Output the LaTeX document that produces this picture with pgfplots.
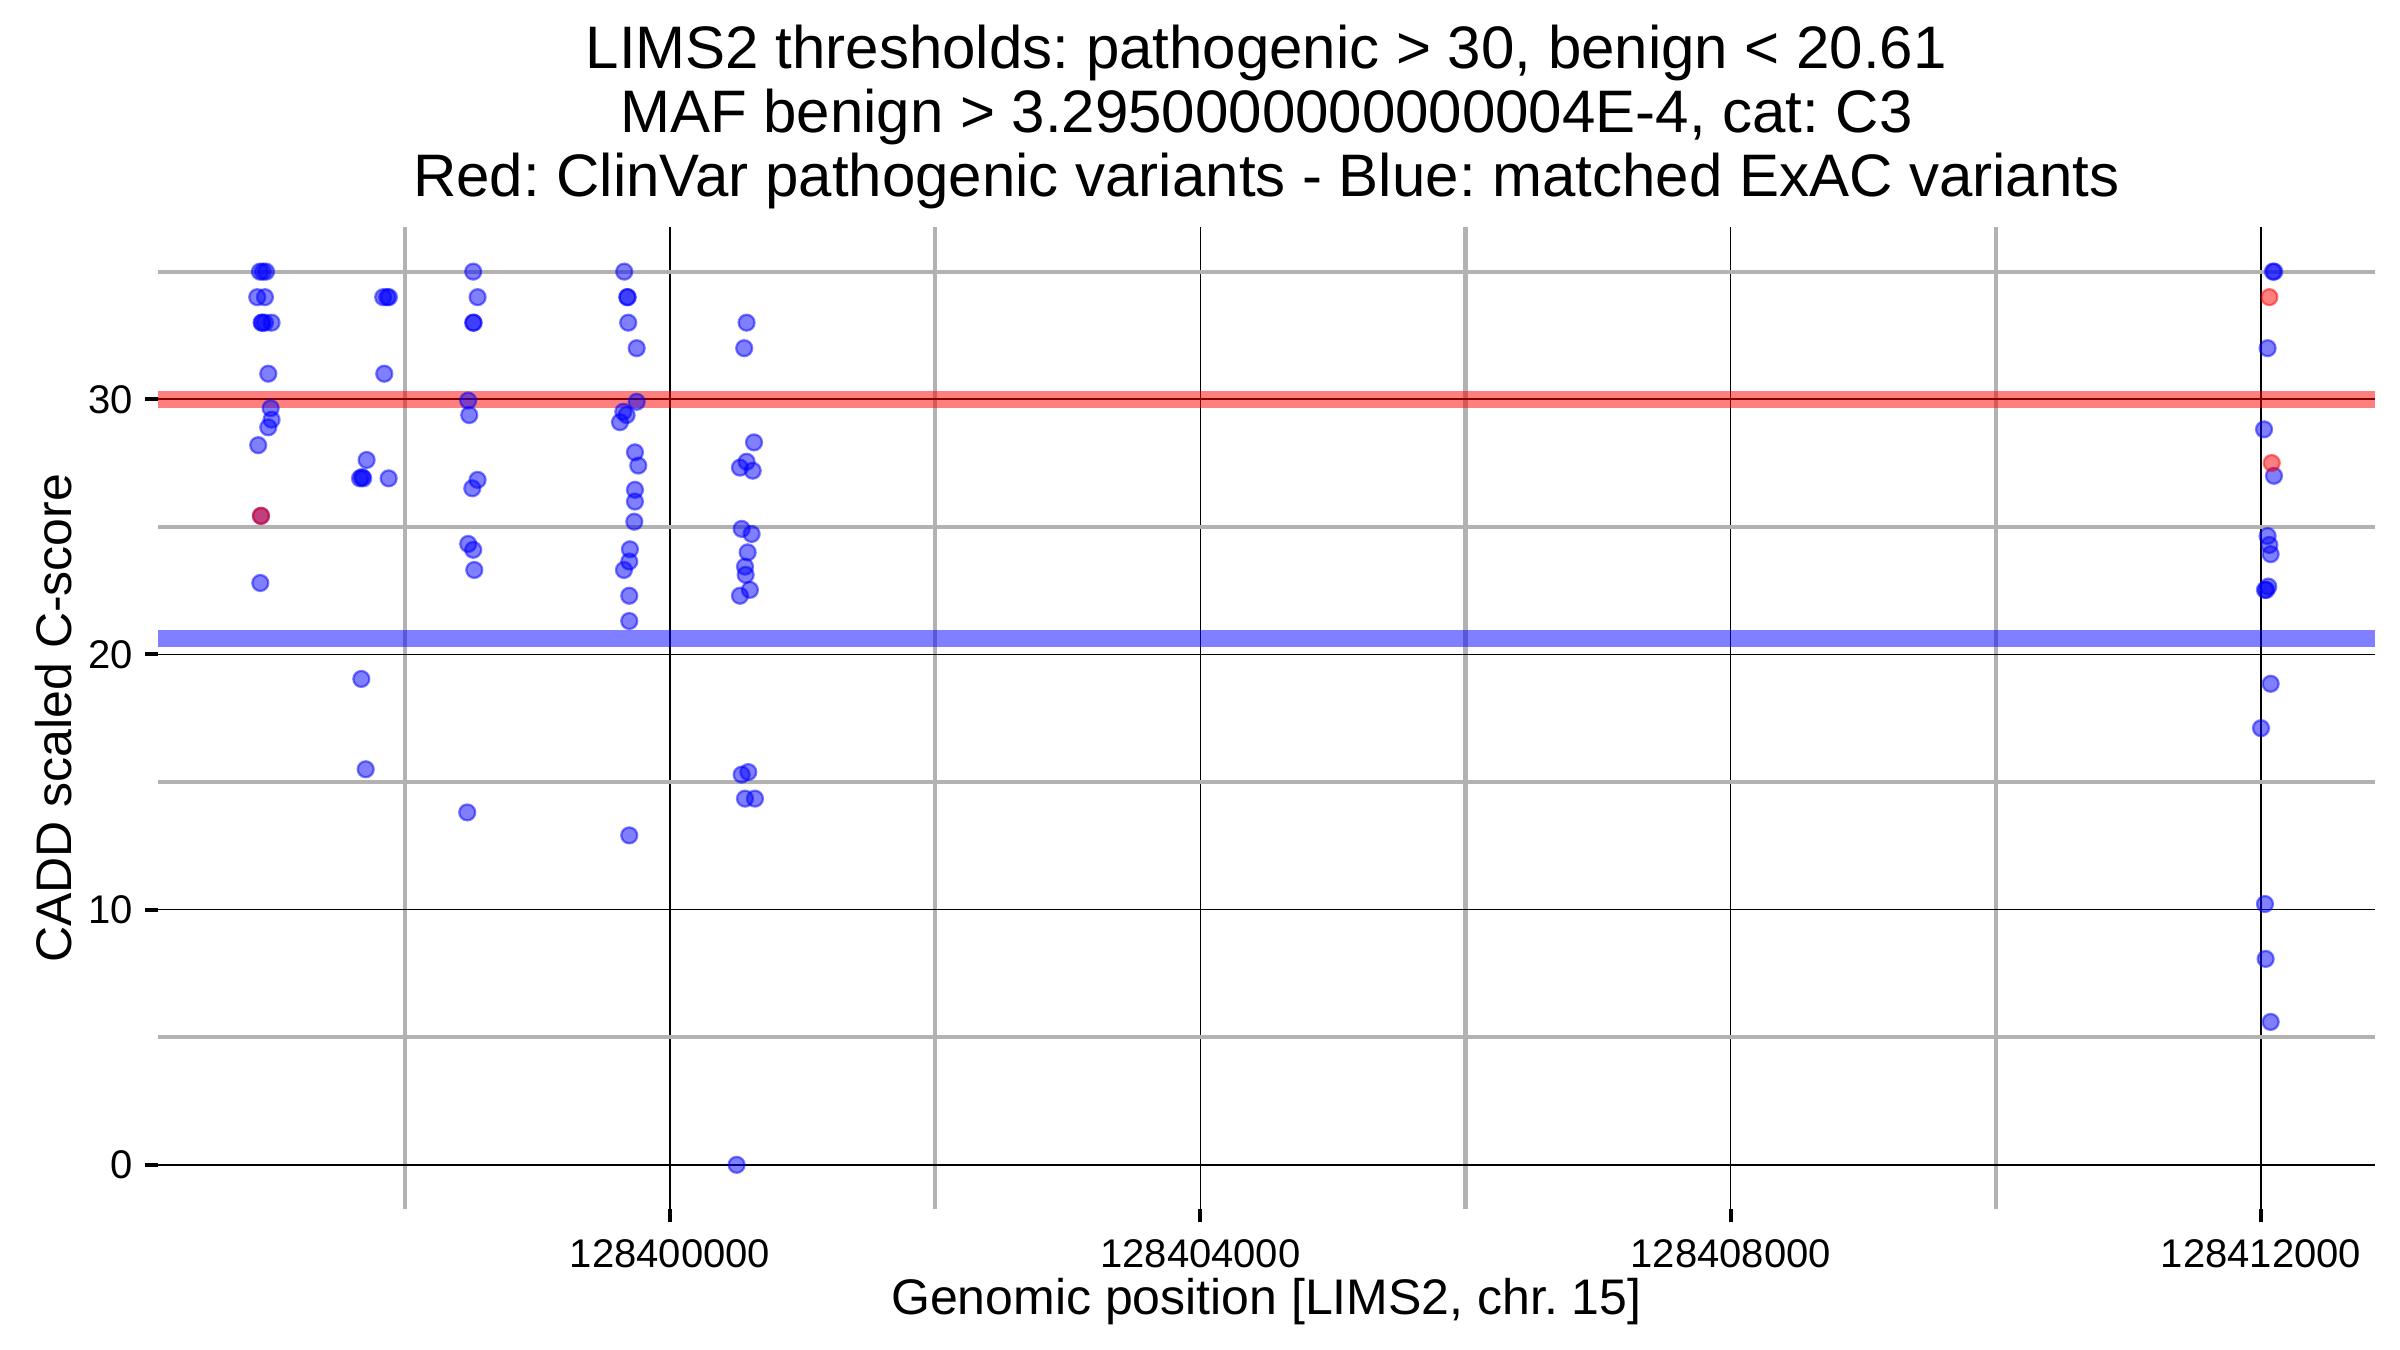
\documentclass[border=0pt]{standalone}
\usepackage{fontspec}
\setmainfont{Liberation Sans}
\usepackage{pgfplots}
\usepackage{pgfplotstable}
\pgfplotsset{compat=1.18}
\frenchspacing
% x = genomic position - 128400000 (chr. 15)
\pgfplotstableread{
x y
-3094 35
-3071 35
-3048 35
-3114 34
-3056 34
-3081 33
-3076 33
-3056 33
-3006 33
-3031 31
-3013 29.65
-3006 29.2
-3031 28.9
-3107 28.2
-3086 25.43
-3091 22.8
-2164 34
-2134 34
-2121 34
-2156 31
-2289 27.62
-2339 26.9
-2315 26.9
-2324 26.95
-2123 26.9
-2329 19.04
-2296 15.5
-1485 35
-1452 34
-1485 33
-1482 33
-1523 29.95
-1515 29.38
-1452 26.84
-1492 26.51
-1523 24.33
-1485 24.1
-1477 23.31
-1530 13.81
-346 35
-323 34
-320 34
-316 33
-252 32
-252 29.9
-353 29.51
-328 29.38
-378 29.1
-265 27.92
-240 27.4
-265 26.45
-265 25.99
-270 25.2
-303 24.12
-308 23.64
-348 23.31
-308 22.3
-308 21.31
-308 12.91
577 33
559 32
633 28.31
577 27.55
527 27.32
623 27.2
540 24.92
615 24.72
585 24.0
565 23.44
570 23.12
602 22.53
527 22.3
540 15.29
590 15.39
565 14.35
640 14.35
502 0
12090 35
12100 35
12050 32
12023 28.82
12098 27.0
12050 24.64
12063 24.29
12073 23.93
12055 22.66
12030 22.53
12040 22.53
12073 18.85
12000 17.11
12030 10.22
12035 8.07
12073 5.6
}\bluedata
\pgfplotstableread{
x y
-3086 25.43
12063 34.0
12081 27.5
}\reddata
\begin{document}
\begin{tikzpicture}
\begin{axis}[
  at={(0,0)}, anchor=south west,
  scale only axis, width=443.46pt, height=196.5pt,
  xmin=-3865, xmax=12860, ymin=-1.75, ymax=36.75,
  axis line style={draw=none},
  scaled x ticks=false, scaled y ticks=false,
  xtick={0,4000,8000,12000},
  xticklabels={128400000,128404000,128408000,128412000},
  minor xtick={-2000,2000,6000,10000},
  ytick={0,10,20,30}, yticklabels={0,10,20,30},
  minor ytick={5,15,25,35},
  grid=both,
  major grid style={black, line width=0.3pt},
  minor grid style={black!30, line width=0.85pt},
  tick align=outside, major tick length=2.5pt, minor tick length=0pt,
  xtick pos=left, ytick pos=left,
  major tick style={black, line width=0.8pt},
  ticklabel style={font=\fontsize{8}{9.6}\selectfont, text=black},
  yticklabel style={inner xsep=2.3pt},
  /pgf/number format/assume math mode=true,
  clip=true,
]
\addplot[only marks, mark=*, mark size=1.6pt, line width=0.45pt,
  mark options={draw=blue, fill=blue, opacity=0.5}] table[x=x,y=y]{\bluedata};
\addplot[only marks, mark=*, mark size=1.6pt, line width=0.45pt,
  mark options={draw=red, fill=red, opacity=0.5}] table[x=x,y=y]{\reddata};
\addplot[red, opacity=0.5, line width=3.4pt] coordinates {(-3865,30) (12860,30)};
\addplot[blue, opacity=0.5, line width=3.4pt] coordinates {(-3865,20.61) (12860,20.61)};
\end{axis}
\path (221.73pt,196.5pt) ++(0,31.7pt) node[anchor=base, font=\fontsize{12}{14.4}\selectfont] {LIMS2 thresholds: pathogenic > 30, benign < 20.61};
\path (221.73pt,196.5pt) ++(0,18.9pt) node[anchor=base, font=\fontsize{12}{14.4}\selectfont] {MAF benign > 3.2950000000000004E-4, cat: C3};
\path (221.73pt,196.5pt) ++(0,6.1pt) node[anchor=base, font=\fontsize{12}{14.4}\selectfont] {Red: ClinVar pathogenic variants - Blue: matched ExAC variants};
\path (221.73pt,-21.1pt) node[anchor=base, font=\fontsize{10}{12}\selectfont] {Genomic position [LIMS2, chr. 15]};
\path (-17.3pt,98.25pt) node[anchor=base, rotate=90, font=\fontsize{10}{12}\selectfont] {CADD scaled C-score};
\pgfresetboundingbox
\path[use as bounding box] (-31.54pt,-28.1pt) rectangle (448.46pt,241.9pt);
\end{tikzpicture}
\end{document}
